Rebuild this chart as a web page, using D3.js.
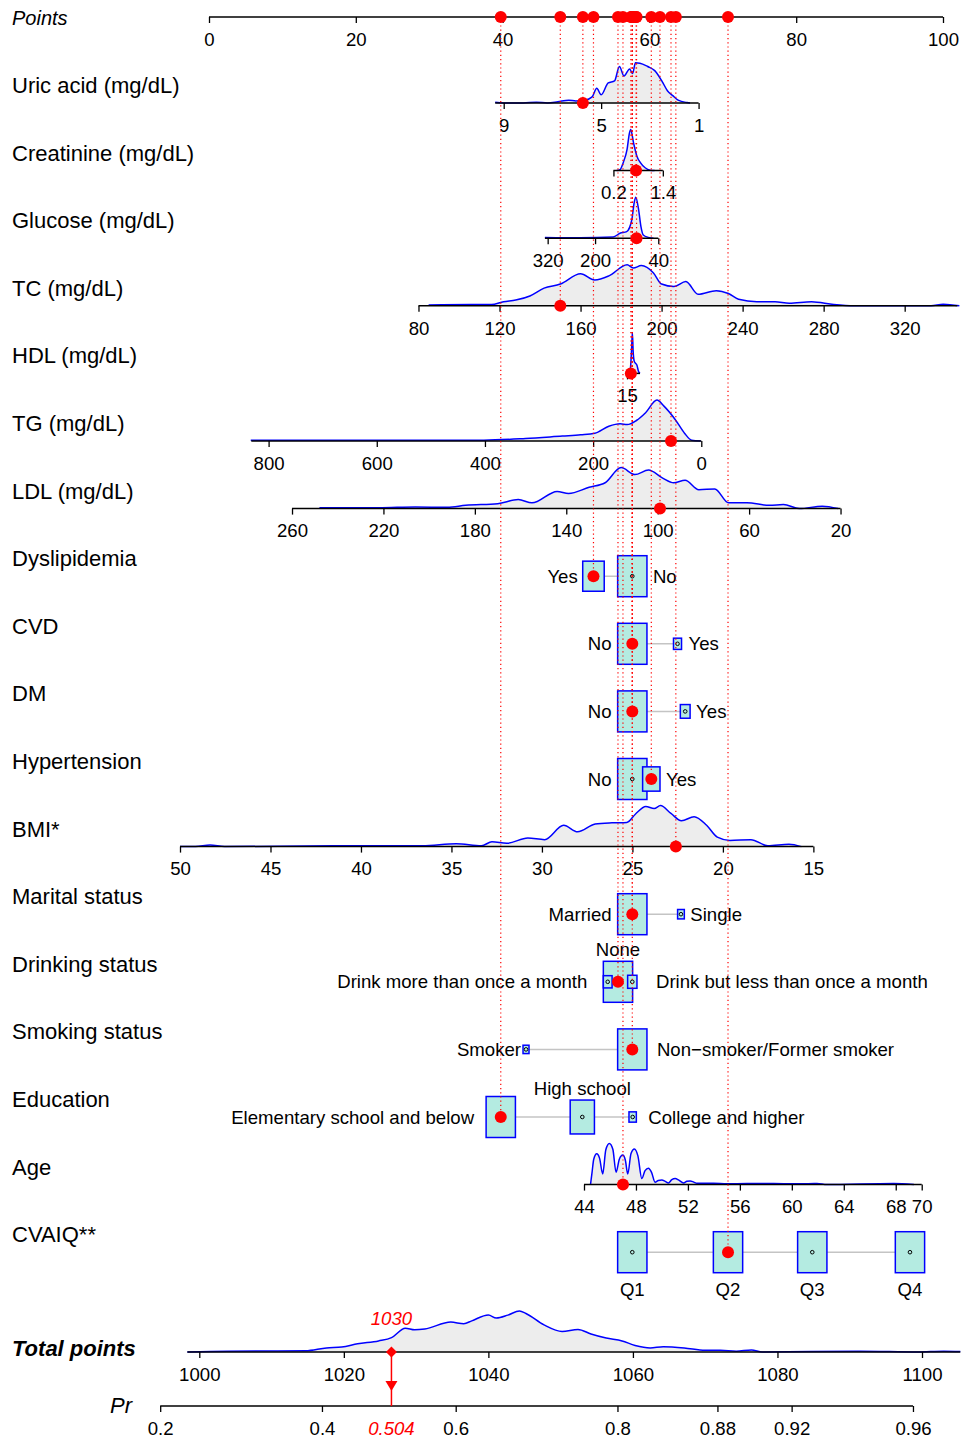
<!DOCTYPE html>
<html>
<head>
<meta charset="utf-8">
<script src="https://cdn.jsdelivr.net/npm/d3@7"></script>
<style>
  body { margin: 0; background: #fff; }
  svg { display: block; }
</style>
</head>
<body>
<svg id="chart" width="961" height="1439"></svg>
<script>
// ---------- nomogram data ----------
const variableNames = ["Uric acid (mg/dL)", "Creatinine (mg/dL)", "Glucose (mg/dL)", "TC (mg/dL)", "HDL (mg/dL)",
  "TG (mg/dL)", "LDL (mg/dL)", "Dyslipidemia", "CVD", "DM", "Hypertension", "BMI*", "Marital status",
  "Drinking status", "Smoking status", "Education", "Age", "CVAIQ**"];

const pointTicks = [0, 20, 40, 60, 80, 100];

// continuous predictors: two scoring anchors (value -> points), ticks, observed range, patient value
const uricAnchors = [9, 1], uricPts = [40.15, 66.70], uricTicks = [9, 5, 1], uricRange = [9.35, 1], uricValue = 5.75;
const creatAnchors = [0.2, 1.4], creatPts = [55.10, 61.83], creatTicks = [0.2, 1.4], creatRange = [0.2, 1.4], creatValue = 0.75;
const glucAnchors = [320, 40], glucPts = [46.14, 61.21], glucTicks = [320, 200, 40], glucRange = [327, 40], glucValue = 95;
const tcAnchors = [80, 320], tcPts = [28.54, 94.78], tcTicks = [80, 120, 160, 200, 240, 280, 320], tcRange = [80, 346], tcValue = 150;
const hdlAnchors = [15, 100], hdlPts = [56.95, 58.72], hdlTicks = [15], hdlRange = [15, 100], hdlValue = 40;
const tgAnchors = [800, 0], tgPts = [8.12, 67.07], tgTicks = [800, 600, 400, 200, 0], tgRange = [832, 0], tgValue = 56;
const ldlAnchors = [260, 20], ldlPts = [11.31, 86.04], ldlTicks = [260, 220, 180, 140, 100, 60, 20], ldlRange = [260, 20], ldlValue = 99;
const bmiAnchors = [50, 15], bmiPts = [-3.95, 82.34], bmiTicks = [50, 45, 40, 35, 30, 25, 20, 15], bmiRange = [50, 15], bmiValue = 22.6;
const ageAnchors = [44, 70], agePts = [51.09, 97.10], ageTicks = [44, 48, 52, 56, 60, 64, 68, 70], ageRange = [44, 70], ageValue = 47;

// density outlines (value, relative height)
const uricDensV = [9.35, 9.0, 8.2, 7.66, 7.2, 6.78, 6.33, 6.04, 5.67, 5.37, 5.18, 5.0, 4.71, 4.45, 4.25, 4.06, 3.83, 3.71, 3.59, 3.41, 3.09, 2.80, 2.50, 2.28, 2.06, 1.84, 1.47, 1.35];
const uricDensH = [0.02, 0, 0, 0.02, 0, 0.03, 0.07, 0.05, 0.07, 0.15, 0.36, 0.2, 0.49, 0.54, 0.89, 0.66, 0.83, 0.72, 0.98, 0.97, 0.89, 0.79, 0.53, 0.30, 0.18, 0.07, 0.01, 0];
const creatDensV = [0.28, 0.36, 0.44, 0.53, 0.59, 0.62, 0.69, 0.77, 0.85, 0.97, 1.09, 1.2];
const creatDensH = [0, 0.02, 0.2, 0.51, 0.92, 1.0, 0.67, 0.35, 0.2, 0.07, 0.01, 0];
const glucDensV = [327, 238, 154, 137, 120, 107, 101, 97, 90, 84, 78, 65, 52];
const glucDensH = [0.02, 0.01, 0.03, 0.12, 0.16, 0.45, 0.87, 1.0, 0.71, 0.29, 0.08, 0.02, 0];
const tcDensV = [85, 106, 116, 122, 128, 135, 142, 150, 160, 167, 174, 183, 186, 190, 196, 200, 206, 212, 218, 227, 233, 238, 247, 256, 263, 274, 285, 295, 333, 339, 347];
const tcDensH = [0.02, 0.03, 0.03, 0.10, 0.14, 0.24, 0.43, 0.53, 0.78, 0.63, 0.73, 1.0, 0.92, 0.98, 0.80, 0.53, 0.47, 0.59, 0.28, 0.37, 0.30, 0.16, 0.10, 0.10, 0.06, 0.10, 0.03, 0, 0, 0.04, 0];
const hdlDensV = [15, 30, 38, 45, 50, 55, 62, 70, 80, 90, 100];
const hdlDensH = [0, 0.02, 0.15, 0.6, 1.0, 0.55, 0.3, 0.25, 0.2, 0.05, 0];
const tgDensV = [833, 683, 513, 402, 325, 257, 223, 197, 171, 150, 137, 120, 103, 82, 69, 48, 31, 18, 1];
const tgDensH = [0.02, 0.02, 0.02, 0.02, 0.06, 0.12, 0.15, 0.19, 0.36, 0.42, 0.40, 0.50, 0.69, 1.0, 0.85, 0.52, 0.19, 0.02, 0];
const ldlDensV = [248, 222, 206, 192, 184, 170, 161, 155, 144, 139, 130, 123, 116, 110, 104, 98, 93, 88, 82, 75, 69, 61, 51, 45, 38, 28, 21];
const ldlDensH = [0.02, 0.02, 0.04, 0.03, 0.08, 0.12, 0.22, 0.14, 0.42, 0.37, 0.52, 0.63, 1.0, 0.83, 0.94, 0.75, 0.63, 0.69, 0.46, 0.48, 0.14, 0.14, 0.08, 0.10, 0, 0.06, 0];
const bmiDensV = [50, 49.15, 48.34, 47.53, 41.48, 36.6, 34.73, 33.34, 32.76, 31.94, 30.78, 29.85, 28.8, 28.03, 27.06, 26.13, 25.31, 24.84, 24.26, 23.8, 23.45, 22.87, 22.29, 21.59, 20.9, 20.31, 19.61, 18.45, 17.52, 16.35, 15.66];
const bmiDensH = [0, 0, 0.04, 0, 0.02, 0.02, 0.07, 0.02, 0.12, 0.08, 0.21, 0.17, 0.52, 0.36, 0.55, 0.58, 0.59, 0.79, 0.98, 0.93, 1.0, 0.81, 0.63, 0.73, 0.52, 0.23, 0.15, 0.17, 0.02, 0.06, 0];
const ageDensV = [44.5, 44.62, 44.75, 44.98, 45.2, 45.44, 45.68, 45.95, 46.22, 46.47, 46.72, 46.98, 47.18, 47.37, 47.62, 47.88, 48.15, 48.45, 48.7, 48.96, 49.2, 49.47, 49.72, 49.99, 50.25, 50.5, 50.76, 51.02, 51.3, 51.66, 51.92, 52.17, 52.45, 52.69, 53.97, 55.0, 56.55, 58.6, 60.14, 61.94, 62.7, 67.85, 69.4];
const ageDensH = [0, 0.3, 0.62, 0.75, 0.64, 0.26, 0.85, 1.0, 0.86, 0.30, 0.62, 0.72, 0.6, 0.26, 0.76, 0.87, 0.7, 0.15, 0.34, 0.40, 0.3, 0.06, 0.1, 0.11, 0.08, 0.04, 0.12, 0.15, 0.11, 0.04, 0.08, 0.09, 0.06, 0.03, 0.03, 0.02, 0.025, 0.025, 0.02, 0.025, 0, 0.025, 0];

// categorical predictors: levels, share of sample (box size), points, patient level
const dyslipLevels = ["Yes", "No"], dyslipFreq = [0.35, 0.65], dyslipPts = [52.38, 57.67], dyslipValue = "Yes";
const cvdLevels = ["No", "Yes"], cvdFreq = [0.93, 0.07], cvdPts = [57.67, 63.83], cvdValue = "No";
const dmLevels = ["No", "Yes"], dmFreq = [0.90, 0.10], dmPts = [57.67, 64.88], dmValue = "No";
const htLevels = ["No", "Yes"], htFreq = [0.74, 0.26], htPts = [57.67, 60.26], htValue = "Yes";
const maritalLevels = ["Married", "Single"], maritalFreq = [0.95, 0.05], maritalPts = [57.67, 64.3], maritalValue = "Married";
const drinkLevels = ["Drink more than once a month", "None", "Drink but less than once a month"], drinkFreq = [0.075, 0.84, 0.085], drinkPts = [54.32, 55.72, 57.67], drinkValue = "None";
const smokeLevels = ["Smoker", "Non\u2212smoker/Former smoker"], smokeFreq = [0.04, 0.96], smokePts = [43.19, 57.67], smokeValue = "Non\u2212smoker/Former smoker";
const eduLevels = ["Elementary school and below", "High school", "College and higher"], eduFreq = [0.57, 0.39, 0.036], eduPts = [39.75, 50.86, 57.72], eduValue = "Elementary school and below";
const cvaiqLevels = ["Q1", "Q2", "Q3", "Q4"], cvaiqFreq = [0.25, 0.25, 0.25, 0.25], cvaiqPts = [57.67, 70.71, 82.19, 95.5], cvaiqValue = "Q2";

// total points and risk
const totalTicks = [1000, 1020, 1040, 1060, 1080, 1100];
const totalRange = [998.35, 1105.3];
const totalDensV = [998.35, 1003.9, 1014.7, 1017.6, 1019.7, 1021.9, 1024.8, 1026.6, 1028.5, 1029.8, 1031.2, 1034.8, 1036.6, 1037.7, 1040.0, 1041.1, 1042.7, 1044.3, 1045.2, 1047.7, 1050.2, 1052.4, 1054.2, 1056.3, 1058.5, 1060.3, 1062.4, 1064.2, 1067.1, 1070.0, 1072.1, 1074.3, 1076.4, 1077.9, 1091.5, 1099.4, 1103, 1105.3];
const totalDensH = [0, 0.02, 0.03, 0.1, 0.12, 0.2, 0.27, 0.35, 0.58, 0.54, 0.56, 0.73, 0.69, 0.76, 0.9, 0.83, 0.9, 1.0, 0.94, 0.66, 0.50, 0.55, 0.44, 0.34, 0.27, 0.16, 0.1, 0.13, 0.1, 0.04, 0.04, 0.02, 0.05, 0, 0.02, 0, 0.02, 0.01];
const prTicks = [0.2, 0.4, 0.6, 0.8, 0.88, 0.92, 0.96];
const prIntercept = -44.9692, prSlope = 0.04382;   // logit(Pr) = a + b * total points

// ---------- tables for drawing ----------
const continuous = [
  {row: 0, anchors: uricAnchors, pts: uricPts, ticks: uricTicks, range: uricRange, value: uricValue, dv: uricDensV, dh: uricDensH},
  {row: 1, anchors: creatAnchors, pts: creatPts, ticks: creatTicks, range: creatRange, value: creatValue, dv: creatDensV, dh: creatDensH},
  {row: 2, anchors: glucAnchors, pts: glucPts, ticks: glucTicks, range: glucRange, value: glucValue, dv: glucDensV, dh: glucDensH},
  {row: 3, anchors: tcAnchors, pts: tcPts, ticks: tcTicks, range: tcRange, value: tcValue, dv: tcDensV, dh: tcDensH},
  {row: 4, anchors: hdlAnchors, pts: hdlPts, ticks: hdlTicks, range: hdlRange, value: hdlValue, dv: hdlDensV, dh: hdlDensH},
  {row: 5, anchors: tgAnchors, pts: tgPts, ticks: tgTicks, range: tgRange, value: tgValue, dv: tgDensV, dh: tgDensH},
  {row: 6, anchors: ldlAnchors, pts: ldlPts, ticks: ldlTicks, range: ldlRange, value: ldlValue, dv: ldlDensV, dh: ldlDensH},
  {row: 11, anchors: bmiAnchors, pts: bmiPts, ticks: bmiTicks, range: bmiRange, value: bmiValue, dv: bmiDensV, dh: bmiDensH},
  {row: 16, anchors: ageAnchors, pts: agePts, ticks: ageTicks, range: ageRange, value: ageValue, dv: ageDensV, dh: ageDensH}
];

// label placement for each level: left / right / above / below of its box
const categorical = [
  {row: 7, levels: dyslipLevels, freq: dyslipFreq, pts: dyslipPts, value: dyslipValue, place: ["left", "right"], gap: [5, 6]},
  {row: 8, levels: cvdLevels, freq: cvdFreq, pts: cvdPts, value: cvdValue, place: ["left", "right"], gap: [6, 7]},
  {row: 9, levels: dmLevels, freq: dmFreq, pts: dmPts, value: dmValue, place: ["left", "right"], gap: [6, 6]},
  {row: 10, levels: htLevels, freq: htFreq, pts: htPts, value: htValue, place: ["left", "right"], gap: [6, 6]},
  {row: 12, levels: maritalLevels, freq: maritalFreq, pts: maritalPts, value: maritalValue, place: ["left", "right"], gap: [6, 6]},
  {row: 13, levels: drinkLevels, freq: drinkFreq, pts: drinkPts, value: drinkValue, place: ["left", "above", "right"], gap: [16, 19]},
  {row: 14, levels: smokeLevels, freq: smokeFreq, pts: smokePts, value: smokeValue, place: ["left", "right"], gap: [2, 10]},
  {row: 15, levels: eduLevels, freq: eduFreq, pts: eduPts, value: eduValue, place: ["left", "above", "right"], gap: [12, 12]},
  {row: 17, levels: cvaiqLevels, freq: cvaiqFreq, pts: cvaiqPts, value: cvaiqValue, place: ["below", "below", "below", "below"], gap: [0, 0]}
];

// ---------- layout ----------
const font = '"Liberation Sans", Arial, Helvetica, sans-serif';
const pointsAxisY = 17, totalAxisY = 1352, prAxisY = 1406;
const rowY = i => 103 + i * 67.6;
const densHeight = 41, boxW = 29.3, boxH = 41;
const tickFont = 18.6, nameFont = 22;

const svg = d3.select("#chart").style("font-family", font);
const pointsX = d3.scaleLinear().domain([0, 100]).range([209, 943]);
const totalX = d3.scaleLinear().domain([1000, 1100]).range([199.3, 922]);

const gBack = svg.append("g");
const gRed = svg.append("g");

function styleAxis(g) {
  g.attr("font-family", font).attr("font-size", tickFont);
  g.selectAll(".tick line").attr("stroke", "#000").attr("stroke-width", 1.3);
  g.selectAll(".tick text").attr("fill", "#000");
  g.select(".domain").remove();
}

function drawAxis(parent, scale, y, ticks, range, fmt) {
  const g = parent.append("g").attr("transform", `translate(0,${y})`)
    .call(d3.axisBottom(scale).tickValues(ticks).tickSize(6).tickPadding(9.5).tickSizeOuter(0)
      .tickFormat(fmt || (d => String(d))));
  styleAxis(g);
  g.append("line").attr("x1", scale(range[0])).attr("x2", scale(range[1]))
    .attr("stroke", "#000").attr("stroke-width", 1.5);
  return g;
}

function drawDensity(parent, scale, y, dv, dh) {
  const pts = dv.map((v, i) => [scale(v), dh[i]]).sort((a, b) => a[0] - b[0]);
  const area = d3.area().x(d => d[0]).y0(y).y1(d => y - d[1] * densHeight).curve(d3.curveMonotoneX);
  const line = d3.line().x(d => d[0]).y(d => y - d[1] * densHeight).curve(d3.curveMonotoneX);
  parent.append("path").attr("d", area(pts)).attr("fill", "#ededed");
  parent.append("path").attr("d", line(pts)).attr("fill", "none").attr("stroke", "blue").attr("stroke-width", 1.5);
}

// row names
svg.append("text").attr("x", 12).attr("y", 25).attr("font-size", 20).attr("font-style", "italic").text("Points");
variableNames.forEach((n, i) => {
  svg.append("text").attr("x", 12).attr("y", rowY(i) - 10).attr("font-size", nameFont).text(n);
});
svg.append("text").attr("x", 12).attr("y", 1356).attr("font-size", nameFont)
  .attr("font-weight", "bold").attr("font-style", "italic").text("Total points");
svg.append("text").attr("x", 110).attr("y", 1413).attr("font-size", nameFont).attr("font-style", "italic").text("Pr");

// points axis
drawAxis(gBack, pointsX, pointsAxisY, pointTicks, [0, 100]);

const chosen = [];   // {x, y, pts}

// continuous rows
continuous.forEach(c => {
  const y = rowY(c.row);
  const scale = d3.scaleLinear().domain(c.anchors).range(c.pts.map(p => pointsX(p)));
  const ptsScale = d3.scaleLinear().domain(c.anchors).range(c.pts);
  drawDensity(gBack, scale, y, c.dv, c.dh);
  drawAxis(gBack, scale, y, c.ticks, c.range);
  chosen.push({x: scale(c.value), y: y, pts: ptsScale(c.value)});
});

// categorical rows
categorical.forEach(c => {
  const y = rowY(c.row);
  const maxF = d3.max(c.freq);
  const xs = c.pts.map(p => pointsX(p));
  const g = gBack.append("g");
  g.append("line").attr("x1", d3.min(xs)).attr("x2", d3.max(xs)).attr("y1", y).attr("y2", y)
    .attr("stroke", "#c4c4c4").attr("stroke-width", 1.5);
  // biggest boxes first so the small ones stay visible
  const order = d3.range(c.levels.length).sort((a, b) => c.freq[b] - c.freq[a]);
  order.forEach(i => {
    const lev = c.levels[i];
    const k = Math.sqrt(c.freq[i] / maxF);
    const w = boxW * k, h = boxH * k, x = xs[i];
    g.append("rect").attr("x", x - w / 2).attr("y", y - h / 2).attr("width", w).attr("height", h)
      .attr("fill", "#b4ebe1").attr("stroke", "blue").attr("stroke-width", 1.5);
    if (lev !== c.value) {
      g.append("circle").attr("cx", x).attr("cy", y).attr("r", 1.8)
        .attr("fill", "none").attr("stroke", "#000").attr("stroke-width", 1);
    } else {
      chosen.push({x: x, y: y, pts: c.pts[i]});
    }
    const t = g.append("text").attr("font-size", tickFont).text(lev);
    const p = c.place[i];
    if (p === "left") t.attr("x", x - w / 2 - c.gap[0]).attr("y", y + 6.5).attr("text-anchor", "end");
    else if (p === "right") t.attr("x", x + w / 2 + c.gap[1]).attr("y", y + 6.5);
    else if (p === "above") t.attr("x", x).attr("y", y - h / 2 - 5).attr("text-anchor", "middle");
    else t.attr("x", x).attr("y", y + h / 2 + 23).attr("text-anchor", "middle");
  });
});

// total points
drawDensity(gBack, totalX, totalAxisY, totalDensV, totalDensH);
drawAxis(gBack, totalX, totalAxisY, totalTicks, totalRange);

// risk axis (linear in logit)
const logit = p => Math.log(p / (1 - p));
const lo = logit(prTicks[0]), hi = logit(prTicks[prTicks.length - 1]);
const prX = d3.scaleLinear().domain([lo, hi])
  .range([totalX((lo - prIntercept) / prSlope), totalX((hi - prIntercept) / prSlope)]);
drawAxis(gBack, prX, prAxisY, prTicks.map(logit), [lo, hi], (d, i) => String(prTicks[i]));

// patient: dotted guides + red dots
chosen.forEach(d => {
  const px = pointsX(d.pts);
  gRed.append("line").attr("x1", px).attr("x2", px).attr("y1", pointsAxisY).attr("y2", d.y)
    .attr("stroke", "red").attr("stroke-width", 1.2).attr("stroke-dasharray", "1.2,3");
});
chosen.forEach(d => {
  gRed.append("circle").attr("cx", d.x).attr("cy", d.y).attr("r", 6).attr("fill", "red");
  gRed.append("circle").attr("cx", pointsX(d.pts)).attr("cy", pointsAxisY).attr("r", 6).attr("fill", "red");
});

const total = d3.sum(chosen, d => d.pts);
const risk = 1 / (1 + Math.exp(-(prIntercept + prSlope * total)));
const tx = totalX(total);
gRed.append("line").attr("x1", tx).attr("x2", tx).attr("y1", totalAxisY).attr("y2", prAxisY)
  .attr("stroke", "red").attr("stroke-width", 1.5);
gRed.append("path").attr("d", `M${tx},${totalAxisY - 5.5}L${tx + 5.5},${totalAxisY}L${tx},${totalAxisY + 5.5}L${tx - 5.5},${totalAxisY}Z`)
  .attr("fill", "red");
gRed.append("path").attr("d", `M${tx - 6},1381L${tx + 6},1381L${tx},1391Z`).attr("fill", "red");
gRed.append("text").attr("x", tx).attr("y", 1325).attr("text-anchor", "middle").attr("fill", "red")
  .attr("font-size", tickFont).attr("font-style", "italic").text(d3.format(".3r")(total));
gRed.append("text").attr("x", tx).attr("y", prAxisY + 29).attr("text-anchor", "middle").attr("fill", "red")
  .attr("font-size", tickFont).attr("font-style", "italic").text(d3.format(".3r")(risk));
</script>
</body>
</html>
